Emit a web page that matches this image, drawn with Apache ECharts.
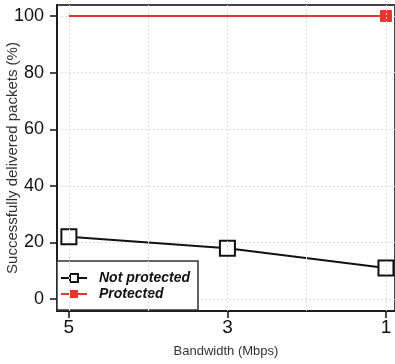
<!DOCTYPE html>
<html>
<head>
<meta charset="utf-8">
<script src="https://cdn.jsdelivr.net/npm/echarts@6/dist/echarts.min.js"></script>
<style>
  html, body { margin: 0; padding: 0; background: #fff; }
  #chart { width: 395px; height: 364px; }
</style>
</head>
<body>
<div id="chart"></div>
<script>
// bandwidth values (Mbps), shown right-to-left decreasing
var bandwidth = [5, 3, 1];
var notProtected = [22, 18, 11];
var protectedVals = [100, 100, 100];
var xTicks = [5, 3, 1];
var xGrid = [5, 4, 3, 2, 1];
var yTicks = [0, 20, 40, 60, 80, 100];

var chart = echarts.init(document.getElementById('chart'));

var font = 'Liberation Sans, Arial, sans-serif';

chart.setOption({
  animation: false,
  grid: {
    left: 57, right: 0, top: 5, bottom: 53,
    outerBoundsMode: 'none',
    containLabel: false,
    show: true,
    borderColor: '#444',
    borderWidth: 2
  },
  legend: {
    left: 57,
    top: 261,
    orient: 'vertical',
    backgroundColor: '#fff',
    borderColor: '#333',
    borderWidth: 1.5,
    padding: [10, 8, 9, 3],
    itemGap: 2,
    itemWidth: 26,
    itemHeight: 10,
    textStyle: { fontFamily: font, fontSize: 14, fontWeight: 'bold', fontStyle: 'italic', color: '#111', padding: [0, 0, 0, 7] },
    data: ['Not protected', 'Protected']
  },
  xAxis: {
    type: 'value',
    inverse: true,
    min: 0.886,
    max: 5.15,
    name: 'Bandwidth (Mbps)',
    nameLocation: 'middle',
    nameGap: 34,
    nameMoveOverlap: false,
    nameTextStyle: { fontFamily: font, fontSize: 13, color: '#333' },
    axisLine: { show: true, onZero: false, lineStyle: { color: '#111', width: 1.5 } },
    axisTick: { show: true, inside: false, length: 7, customValues: xTicks, lineStyle: { color: '#111', width: 1.5 } },
    axisLabel: { customValues: xTicks, fontFamily: font, fontSize: 19, color: '#111', margin: 7 },
    splitLine: { show: false }
  },
  yAxis: {
    type: 'value',
    min: -4.2,
    max: 103.9,
    name: 'Successfully delivered packets (%)',
    nameLocation: 'middle',
    nameGap: 37,
    nameMoveOverlap: false,
    nameTextStyle: { fontFamily: font, fontSize: 15, color: '#333' },
    axisLine: { show: true, onZero: false, lineStyle: { color: '#111', width: 1.5 } },
    axisTick: { show: true, inside: false, length: 7, customValues: yTicks, lineStyle: { color: '#111', width: 1.5 } },
    axisLabel: { customValues: yTicks, fontFamily: font, fontSize: 18, color: '#111', margin: 13 },
    splitLine: { show: true, lineStyle: { color: '#ddd', type: [2, 2], width: 1 } }
  },
  series: [
    {
      name: 'grid-x',
      type: 'line',
      data: [],
      silent: true,
      legendHoverLink: false,
      markLine: {
        silent: true,
        symbol: 'none',
        label: { show: false },
        lineStyle: { color: '#ddd', type: [2, 2], width: 1 },
        data: xGrid.map(function (v) { return { xAxis: v }; })
      }
    },
    {
      name: 'Protected',
      type: 'line',
      z: 3,
      color: '#e0392b',
      symbol: 'rect',
      symbolSize: 11,
      lineStyle: { color: '#e0392b', width: 2 },
      itemStyle: { color: '#e0392b', borderColor: '#e0392b' },
      data: bandwidth.map(function (b, i) {
        var d = { value: [b, protectedVals[i]] };
        if (i < bandwidth.length - 1) d.symbol = 'none';
        return d;
      })
    },
    {
      name: 'Not protected',
      type: 'line',
      z: 4,
      color: '#111',
      symbol: 'rect',
      symbolSize: 15,
      showAllSymbol: true,
      lineStyle: { color: '#111', width: 2 },
      itemStyle: { color: '#fff', borderColor: '#111', borderWidth: 2 },
      data: bandwidth.map(function (b, i) { return [b, notProtected[i]]; })
    }
  ]
});
</script>
</body>
</html>
